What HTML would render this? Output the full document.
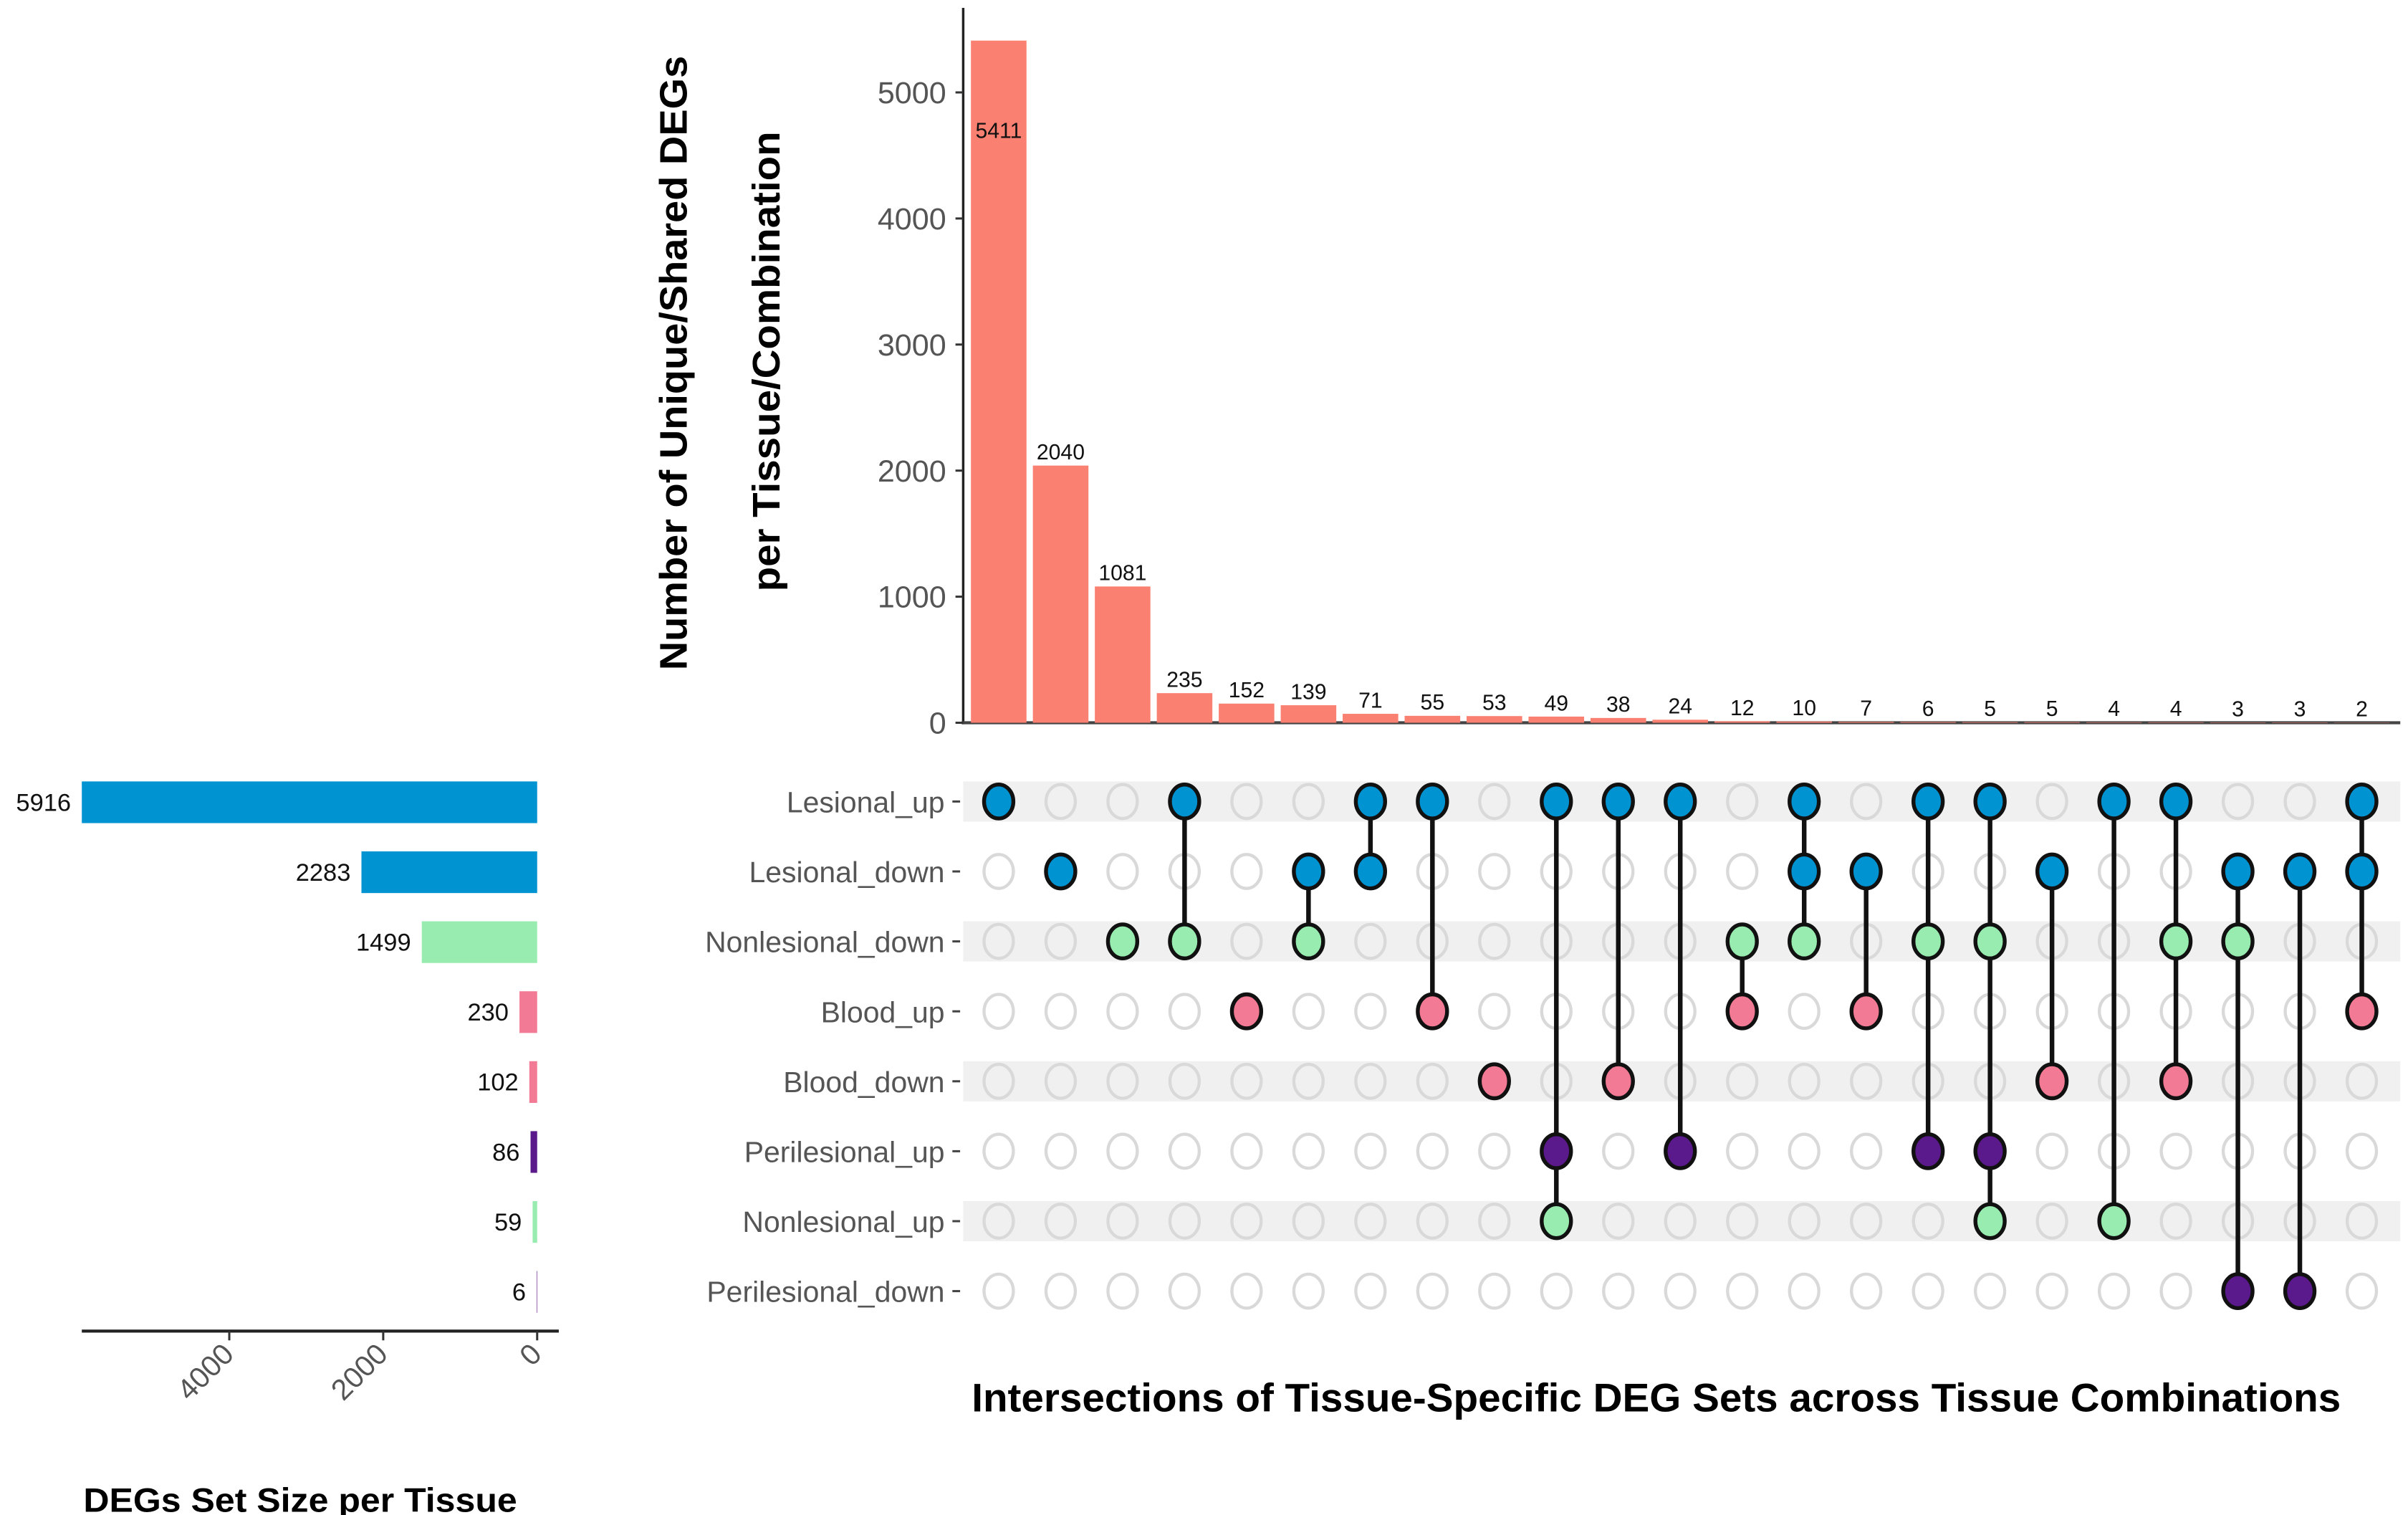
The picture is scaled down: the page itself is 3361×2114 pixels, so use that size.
<!DOCTYPE html>
<html><head><meta charset="utf-8"><style>
html,body{margin:0;padding:0;background:#fff;}
svg{display:block;}
text{font-family:"Liberation Sans",sans-serif;}
</style></head><body>
<svg id="chart" width="3361" height="2114" viewBox="0 0 1560 981" xmlns="http://www.w3.org/2000/svg">
<g id="topchart"></g>
<g id="matrix"></g>
<g id="leftchart"></g>
<text x="445" y="235" transform="rotate(-90 445 235)" text-anchor="middle" font-size="25" font-weight="bold" textLength="398" lengthAdjust="spacingAndGlyphs">Number of Unique/Shared DEGs</text>
<text x="505" y="234" transform="rotate(-90 505 234)" text-anchor="middle" font-size="25" font-weight="bold" textLength="298" lengthAdjust="spacingAndGlyphs">per Tissue/Combination</text>
<text x="1073" y="914" text-anchor="middle" font-size="26" font-weight="bold" textLength="887" lengthAdjust="spacingAndGlyphs">Intersections of Tissue-Specific DEG Sets across Tissue Combinations</text>
<text x="54" y="979" font-size="22" font-weight="bold" textLength="281" lengthAdjust="spacingAndGlyphs">DEGs Set Size per Tissue</text>
</svg>
<script>
const counts = [5411,2040,1081,235,152,139,71,55,53,49,38,24,12,10,7,6,5,5,4,4,3,3,2];
const yTicks = [0,1000,2000,3000,4000,5000];
const setNames = ["Lesional_up","Lesional_down","Nonlesional_down","Blood_up","Blood_down","Perilesional_up","Nonlesional_up","Perilesional_down"];
const setSizes = [5916,2283,1499,230,102,86,59,6];
const sizeTicks = [4000,2000,0];
const combos = [[0],[1],[2],[0,2],[3],[1,2],[0,1],[0,3],[4],[0,5,6],[0,4],[0,5],[2,3],[0,1,2],[1,3],[0,2,5],[0,2,5,6],[1,4],[0,6],[0,2,4],[1,2,7],[1,7],[0,1,3]];
const setColors = ["#0093d1","#0093d1","#98ecb0","#f37a95","#f37a95","#5b1a8c","#98ecb0","#5b1a8c"];

const NS="http://www.w3.org/2000/svg";
function mk(parent,tag,attrs,txt){const e=document.createElementNS(NS,tag);for(const k in attrs)e.setAttribute(k,attrs[k]);if(txt!==undefined)e.textContent=txt;parent.appendChild(e);return e;}
const xCol=i=>647+i*40.14;
const yTop=v=>468-v*0.08165;
const yRow=r=>519+r*45.3;
const xSize=v=>348-v*(295/5916);

const gTop=document.getElementById('topchart');
let a=mk(gTop,'line',{x1:624,y1:5,x2:624,y2:469,stroke:'#222','stroke-width':1.6});


a=mk(gTop,'line',{x1:623,y1:468,x2:1555,y2:468,stroke:'#444','stroke-width':2});


yTicks.forEach(t=>{
  const y=yTop(t);
  mk(gTop,'line',{x1:619,y1:y,x2:624,y2:y,stroke:'#333','stroke-width':1.4});
  const tx=mk(gTop,'text',{x:613,y:y+7,'text-anchor':'end','font-size':20,fill:'#555'},String(t));
  
  
});
counts.forEach((v,i)=>{
  const x=xCol(i),y=yTop(v);
  const r=mk(gTop,'rect',{x:x-18,y:y,width:36,height:468-y,fill:'#fa8072'});
  
  
  const inside = i===0;
  const t=mk(gTop,'text',{x:x,y:inside?y+63:y-4,'text-anchor':'middle','font-size':14,fill:'#111'},String(v));
  
  
});

const gMat=document.getElementById('matrix');
setNames.forEach((n,r)=>{
  const y=yRow(r);
  if(r%2===0){
    const s=mk(gMat,'rect',{x:624,y:y-13,width:931,height:26,fill:'#f0f0f0'});
    
    
  }
  mk(gMat,'line',{x1:617,y1:y,x2:622,y2:y,stroke:'#444','stroke-width':1.4});
  const t=mk(gMat,'text',{x:612,y:y+7,'text-anchor':'end','font-size':19,fill:'#555'},n);
  
  
});
combos.forEach((c,i)=>{
  const x=xCol(i);
  setNames.forEach((n,r)=>{
    if(c.indexOf(r)<0){
      const e=mk(gMat,'ellipse',{cx:x,cy:yRow(r),rx:9.5,ry:11,fill:'none',stroke:'#d9d9d9','stroke-width':2});
      
      
    }
  });
  if(c.length>1){
    const l=mk(gMat,'line',{x1:x,y1:yRow(Math.min(...c)),x2:x,y2:yRow(Math.max(...c)),stroke:'#111','stroke-width':3});
    
    
  }
  c.forEach(r=>{
    const e=mk(gMat,'ellipse',{cx:x,cy:yRow(r),rx:9.5,ry:11,fill:setColors[r],stroke:'#111','stroke-width':2.5});
    
    
  });
});

const gLeft=document.getElementById('leftchart');
setSizes.forEach((v,r)=>{
  const y=yRow(r),x=xSize(v);
  const b=mk(gLeft,'rect',{x:x,y:y-13,width:348-x,height:27,fill:setColors[r]});
  
  
  const t=mk(gLeft,'text',{x:x-7,y:y+6,'text-anchor':'end','font-size':16,fill:'#111'},String(v));
  
  
});
a=mk(gLeft,'line',{x1:53,y1:862,x2:362,y2:862,stroke:'#222','stroke-width':2});


sizeTicks.forEach(t=>{
  const x=xSize(t);
  mk(gLeft,'line',{x1:x,y1:862,x2:x,y2:868,stroke:'#333','stroke-width':1.4});
  const tx=mk(gLeft,'text',{x:x+4,y:878,'text-anchor':'end','font-size':19,fill:'#555',transform:`rotate(-45 ${x+4} 878)`},String(t));
  
  
});
</script>
</body></html>
